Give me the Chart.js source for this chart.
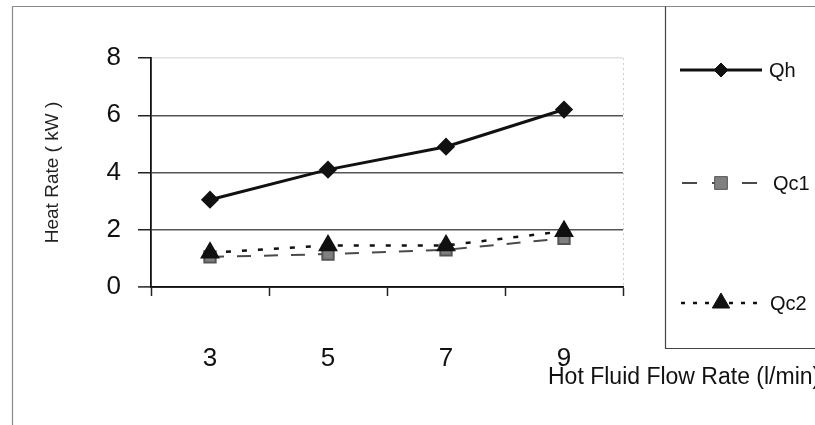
<!DOCTYPE html>
<html>
<head>
<meta charset="utf-8">
<script src="https://cdn.jsdelivr.net/npm/chart.js@4/dist/chart.umd.min.js"></script>
<style>
    html, body { margin: 0; padding: 0; background: #fff; }
    #wrap { width: 815px; height: 425px; }
</style>
</head>
<body>
<div id="wrap"><canvas id="heatChart" width="815" height="425"></canvas></div>
<script>
// Flow rates (l/min) and measured heat rates (kW)
const flowRates = ['3', '5', '7', '9'];
const qh = [3.05, 4.1, 4.9, 6.2];
const qc1 = [1.05, 1.15, 1.3, 1.7];
const qc2 = [1.2, 1.45, 1.45, 1.95];
const yTicks = [0, 2, 4, 6, 8];

const FONT = 'Liberation Sans, Arial, sans-serif';

// legend rows: y position, line dash, marker size, text x
const legendRows = [
    { y: 70, dash: [], radius: 7, x0: 680, x1: 762, textX: 769 },
    { y: 183, dash: [15, 15], radius: 9, x0: 682, x1: 757, textX: 773 },
    { y: 303, dash: [4, 8], radius: 10, x0: 681, x1: 765, textX: 770 }
];

// outer frame, legend box and x axis caption
const framePlugin = {
    id: 'frame',
    afterDraw(chart) {
        const ctx = chart.ctx;
        const area = chart.chartArea;
        ctx.save();
        ctx.strokeStyle = '#8a8a8a';
        ctx.lineWidth = 1.2;
        ctx.beginPath();
        ctx.moveTo(12.5, 425);
        ctx.lineTo(12.5, 6.5);
        ctx.lineTo(815, 6.5);
        ctx.stroke();

        // faint right edge of the plot
        ctx.strokeStyle = '#d0d0d0';
        ctx.setLineDash([2, 3]);
        ctx.lineWidth = 1;
        ctx.beginPath();
        ctx.moveTo(area.right + 0.5, area.top);
        ctx.lineTo(area.right + 0.5, area.bottom);
        ctx.stroke();
        ctx.setLineDash([]);

        // legend box
        ctx.strokeStyle = '#444';
        ctx.lineWidth = 1.2;
        ctx.beginPath();
        ctx.moveTo(665.5, 6.5);
        ctx.lineTo(665.5, 348.5);
        ctx.lineTo(815, 348.5);
        ctx.stroke();

        chart.data.datasets.forEach((ds, i) => {
            const row = legendRows[i];
            ctx.strokeStyle = ds.borderColor;
            ctx.lineWidth = ds.borderWidth;
            ctx.setLineDash(row.dash);
            ctx.beginPath();
            ctx.moveTo(row.x0, row.y);
            ctx.lineTo(row.x1, row.y);
            ctx.stroke();
            ctx.setLineDash([]);
            ctx.fillStyle = ds.pointBackgroundColor;
            ctx.strokeStyle = ds.pointBorderColor;
            ctx.lineWidth = 1;
            Chart.helpers.drawPoint(ctx, {
                pointStyle: ds.pointStyle,
                radius: row.radius,
                borderWidth: 1
            }, 721, row.y);
            ctx.fillStyle = '#111';
            ctx.font = '20px ' + FONT;
            ctx.textAlign = 'left';
            ctx.textBaseline = 'middle';
            ctx.fillText(ds.label, row.textX, row.y + 1);
        });

        ctx.fillStyle = '#111';
        ctx.font = '23px ' + FONT;
        ctx.textAlign = 'left';
        ctx.textBaseline = 'middle';
        ctx.fillText('Hot Fluid Flow Rate (l/min)', 548, 378);
        ctx.restore();
    }
};

const heatChart = new Chart(document.getElementById('heatChart').getContext('2d'), {
    type: 'line',
    data: {
        labels: flowRates,
        datasets: [
            {
                label: 'Qh',
                data: qh,
                borderColor: '#111',
                borderWidth: 3,
                pointStyle: 'rectRot',
                pointRadius: 7,
                pointBackgroundColor: '#111',
                pointBorderColor: '#111',
                order: 1
            },
            {
                label: 'Qc1',
                data: qc1,
                borderColor: '#4a4a4a',
                borderWidth: 2,
                borderDash: [14, 13],
                pointStyle: 'rect',
                pointRadius: 8,
                pointBackgroundColor: '#808080',
                pointBorderColor: '#555',
                order: 3
            },
            {
                label: 'Qc2',
                data: qc2,
                borderColor: '#111',
                borderWidth: 2.5,
                borderDash: [5, 11],
                pointStyle: 'triangle',
                pointRadius: 9,
                pointBackgroundColor: '#111',
                pointBorderColor: '#111',
                order: 2
            }
        ]
    },
    options: {
        responsive: false,
        animation: false,
        layout: {
            padding: { left: 12, top: 58, right: 192, bottom: 0 }
        },
        plugins: {
            legend: { display: false },
            tooltip: { enabled: false }
        },
        scales: {
            x: {
                offset: true,
                afterFit(scale) { scale.height = 138; },
                grid: {
                    offset: true,
                    drawOnChartArea: false,
                    drawTicks: true,
                    tickLength: 9,
                    tickColor: '#222',
                    tickWidth: 1.5
                },
                border: { color: '#111', width: 1.8 },
                ticks: {
                    color: '#111',
                    padding: 47,
                    font: { family: FONT, size: 26 }
                }
            },
            y: {
                min: 0,
                max: 8,
                afterFit(scale) { scale.width = 139; },
                afterBuildTicks(scale) {
                    scale.ticks = yTicks.map(v => ({ value: v }));
                },
                grid: {
                    color: ctx => ctx.tick && ctx.tick.value === 8 ? '#e2e2e2' : '#555',
                    lineWidth: ctx => ctx.tick && ctx.tick.value === 0 ? 1.8 : 1.5,
                    tickLength: 13,
                    tickColor: '#222',
                    tickWidth: 1.5
                },
                border: { color: '#111', width: 1.8 },
                ticks: {
                    color: '#111',
                    padding: 17,
                    font: { family: FONT, size: 26 }
                },
                title: {
                    display: true,
                    text: 'Heat Rate ( kW )',
                    color: '#222',
                    padding: { top: 29, bottom: 0 },
                    font: { family: FONT, size: 19 }
                }
            }
        }
    },
    plugins: [framePlugin]
});
</script>
</body>
</html>
